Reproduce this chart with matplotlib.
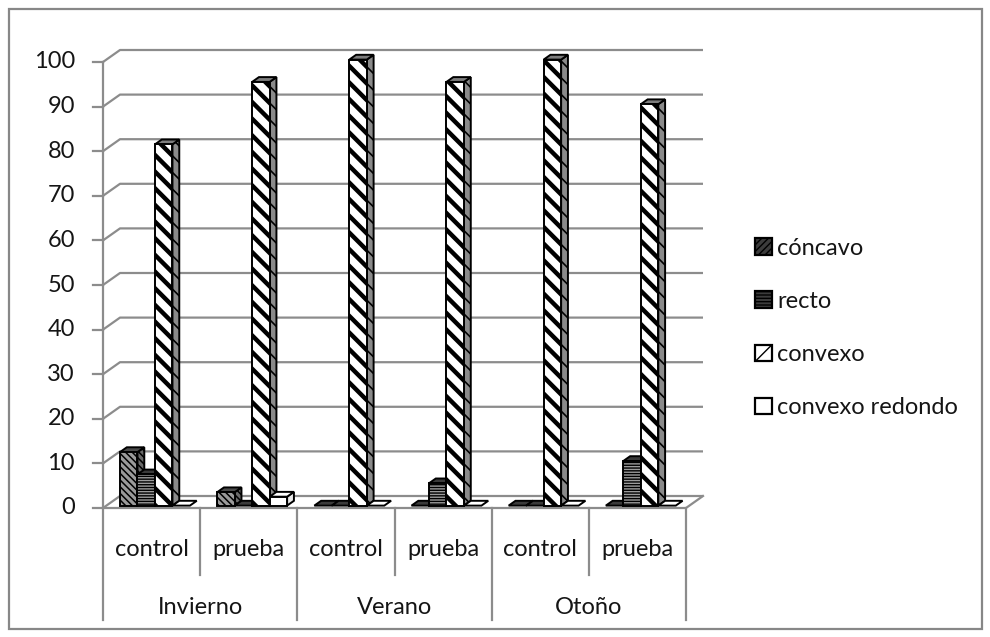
import matplotlib
matplotlib.use("Agg")
import matplotlib.pyplot as plt
from matplotlib.patches import Polygon, Rectangle, Patch

plt.rcParams["font.family"] = ["Lato", "DejaVu Sans"]

# ---- data -------------------------------------------------------------
seasons = ["Invierno", "Verano", "Otoño"]
groups = ["control", "prueba"]
series_names = ["cóncavo", "recto", "convexo", "convexo redondo"]
concavo = [12, 3, 0, 0, 0, 0]
recto = [7, 0, 0, 5, 0, 10]
convexo = [81, 95, 100, 95, 100, 90]
convexo_redondo = [0, 2, 0, 0, 0, 0]
y_ticks = [0, 10, 20, 30, 40, 50, 60, 70, 80, 90, 100]

values = [concavo, recto, convexo, convexo_redondo]

# face / hatch styles per series: (front face, side face, top face, hatch, hatch lw)
styles = [
    ("#9a9a9a", "#6a6a6a", "#4a4a4a", "\\\\\\\\\\", 1.1),
    ("#9c9c9c", "#6a6a6a", "#3a3a3a", "------", 1.0),
    ("#ffffff", "#8a8a8a", "#7d7d7d", "\\\\", 3.2),
    ("#ffffff", "#e8e8e8", "#ffffff", None, 1.0),
]
# legend swatches: (face, hatch, hatch lw)
legend_styles = [
    ("#3c3c3c", "/////", 1.6),
    ("#3c3c3c", "-----", 1.0),
    ("#ffffff", "//", 3.5),
    ("#ffffff", None, 1.0),
]

W, H, DPI = 9.9, 6.37, 100
fig = plt.figure(figsize=(W, H), dpi=DPI)

# plot area in pixels: front floor edge from x=103 to 686, value 0 at y=508, 100 at y=62
left_px, right_px, y0_px, y100_px = 103, 686, 508, 62
ax = fig.add_axes([left_px / 990, (637 - y0_px) / 637,
                   (right_px - left_px) / 990, (y0_px - y100_px) / 637])
n_cat = len(seasons) * len(groups)
ax.set_xlim(0, n_cat)
ax.set_ylim(0, 100)
ax.axis("off")

px_x = (right_px - left_px) / n_cat      # pixels per category unit
px_y = (y0_px - y100_px) / 100.0         # pixels per value unit

# oblique depth of the chart floor
depth_x = 17 / px_x
depth_y = 12 / px_y

grid_color = "#8c8c8c"
glw = 1.6
txt_color = "#151515"

# back-wall gridlines (with the short diagonal on the side wall)
for v in y_ticks:
    ax.plot([0, depth_x, n_cat + depth_x], [v, v + depth_y, v + depth_y],
            color=grid_color, lw=glw, clip_on=False, zorder=1,
            solid_capstyle="butt")
    # tick mark
    ax.plot([-10 / px_x, 0], [v, v], color=grid_color, lw=glw, clip_on=False, zorder=1)
    ax.text(-28 / px_x, v, str(v), ha="right", va="center", fontsize=17,
            color=txt_color)

# floor front and right edges
ax.plot([0, n_cat, n_cat + depth_x], [0, 0, depth_y], color=grid_color, lw=glw,
        clip_on=False, zorder=1)

# front axis line and category separators below the floor
low_short = -(575 - y0_px) / px_y
low_long = -(620 - y0_px) / px_y
ax.plot([0, 0], [100, low_long], color=grid_color, lw=glw, clip_on=False, zorder=1)
for k in range(1, n_cat + 1):
    bottom = low_long if k % len(groups) == 0 else low_short
    ax.plot([k, k], [0, bottom], color=grid_color, lw=glw, clip_on=False, zorder=1)

# category labels
sub_y = -(549 - y0_px) / px_y
grp_y = -(607 - y0_px) / px_y
for k in range(n_cat):
    ax.text(k + 0.5, sub_y, groups[k % len(groups)], ha="center", va="center",
            fontsize=17, color=txt_color)
for s, name in enumerate(seasons):
    ax.text(s * len(groups) + len(groups) / 2, grp_y, name, ha="center",
            va="center", fontsize=17, color=txt_color)


def hatched(poly_pts, face, hatch, hlw, z):
    with plt.rc_context({"hatch.linewidth": hlw}):
        p = Polygon(poly_pts, closed=True, facecolor=face, edgecolor="black",
                    lw=1.4, hatch=hatch, clip_on=False, zorder=z,
                    joinstyle="miter")
        try:
            p.set_hatch_linewidth(hlw)
        except AttributeError:
            pass
    ax.add_patch(p)
    return p


# 3-D columns
n_ser = len(values)
bar_w = 0.18
gap = (1 - n_ser * bar_w) / 2
f_dx, f_dy = 0.2 * depth_x, 0.2 * depth_y      # front plane of the columns
b_dx, b_dy = 0.4 * depth_x, 0.4 * depth_y      # column depth
z = 3
for k in range(n_cat):
    for j in range(n_ser):
        v = values[j][k]
        front, side, top, hatch, hlw = styles[j]
        x0 = k + gap + j * bar_w + f_dx
        x1 = x0 + bar_w
        yb = f_dy
        yt = yb + v
        if v > 0:
            hatched([(x1, yb), (x1 + b_dx, yb + b_dy), (x1 + b_dx, yt + b_dy), (x1, yt)],
                    side, hatch, min(hlw, 1.2), z)
        hatched([(x0, yt), (x1, yt), (x1 + b_dx, yt + b_dy), (x0 + b_dx, yt + b_dy)],
                top if v > 0 else ("#ffffff" if j == 3 else "#3a3a3a"),
                None, hlw, z)
        if v > 0:
            hatched([(x0, yb), (x1, yb), (x1, yt), (x0, yt)], front, hatch, hlw, z)
        z += 1

# legend
handles = []
for j, name in enumerate(series_names):
    face, hatch, hlw = legend_styles[j]
    with plt.rc_context({"hatch.linewidth": hlw}):
        h = Patch(facecolor=face, edgecolor="black", hatch=hatch, lw=1.6, label=name)
        try:
            h.set_hatch_linewidth(hlw)
        except AttributeError:
            pass
    handles.append(h)
fig.legend(handles=handles, loc="center left", bbox_to_anchor=(755 / 990, (637 - 328) / 637),
           frameon=False, fontsize=17, handlelength=0.7, handleheight=0.7,
           handletextpad=0.25, labelspacing=1.36, borderpad=0, borderaxespad=0,
           labelcolor=txt_color)

# chart border
fig.patches.append(Rectangle((8.5 / 990, 8.5 / 637), 973 / 990, 620 / 637,
                             transform=fig.transFigure, fill=False,
                             edgecolor="#878787", lw=1.6))

fig.savefig("out.png", dpi=DPI, facecolor="white")
